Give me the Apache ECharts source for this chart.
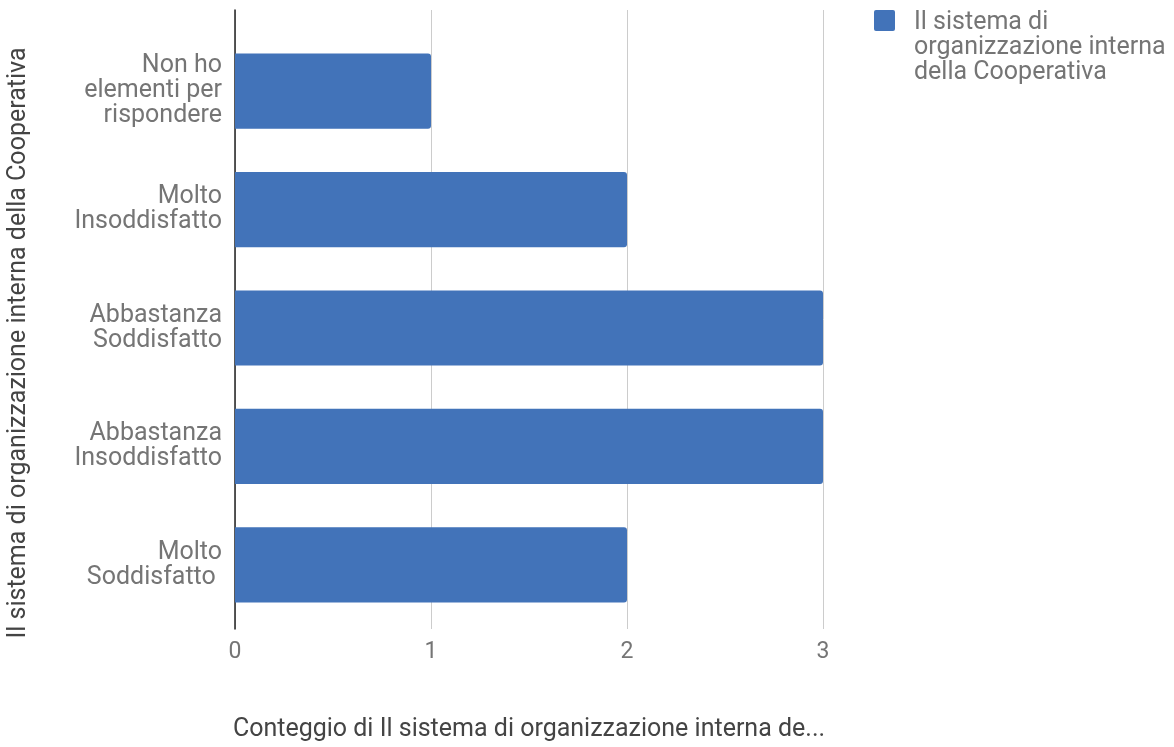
<!DOCTYPE html>
<html>
<head>
<meta charset="utf-8">
<script src="https://cdn.jsdelivr.net/npm/echarts@6/dist/echarts.min.js"></script>
<style>
  html, body { margin: 0; padding: 0; background: #fff; }
  #chart { width: 1174px; height: 747px; }
</style>
</head>
<body>
<div id="chart"></div>
<script>
// Risposte sul sistema di organizzazione interna (conteggio per risposta)
const categories = [
  'Non ho\nelementi per\nrispondere',
  'Molto\nInsoddisfatto',
  'Abbastanza\nSoddisfatto',
  'Abbastanza\nInsoddisfatto',
  'Molto\nSoddisfatto '
];
const counts = [1, 2, 3, 3, 2];
const seriesName = 'Il sistema di\norganizzazione interna\ndella Cooperativa';
const xAxisTitle = 'Conteggio di Il sistema di organizzazione interna de...';
const yAxisTitle = 'Il sistema di organizzazione interna della Cooperativa';

const FONT = 'Roboto';
const TEXT = '#757575';
const TITLE = '#444444';
const BAR = '#4273b9';

// Legend swatch: a small rounded square at the top of a taller invisible box,
// so the three-line label starts level with the swatch.
const LEGEND_ICON = 'path://M2,0H19Q21,0 21,2V19Q21,21 19,21H2Q0,21 0,19V2Q0,0 2,0Z' +
  'M0,75L0,75M35,75L35,75';

const chart = echarts.init(document.getElementById('chart'));
chart.setOption({
  animation: false,
  textStyle: { fontFamily: FONT },
  grid: [
    // frame: gridlines, tick labels and the left axis line
    { left: 235, width: 588, top: 10, height: 633 },
    // bars
    { left: 235, width: 588, top: 32, height: 592 }
  ],
  legend: {
    left: 874, top: 10, padding: 0,
    itemWidth: 35, itemHeight: 75,
    icon: LEGEND_ICON,
    itemGap: 0,
    data: [seriesName],
    textStyle: {
      fontFamily: FONT, fontSize: 25, color: TEXT, lineHeight: 25
    },
    selectedMode: false
  },
  xAxis: [
    {
      gridIndex: 0, type: 'value', min: 0, max: 3, interval: 1,
      name: xAxisTitle, nameLocation: 'middle', nameGap: 88,
      nameTextStyle: { fontFamily: FONT, fontSize: 25, color: TITLE },
      axisLine: { show: false }, axisTick: { show: false },
      axisLabel: { margin: 12, fontSize: 23, color: TEXT, fontFamily: FONT },
      splitLine: { lineStyle: { color: '#cccccc', width: 1 } }
    },
    {
      gridIndex: 1, type: 'value', min: 0, max: 3, interval: 1,
      show: false, splitLine: { show: false }
    }
  ],
  yAxis: [
    {
      gridIndex: 0, type: 'value', min: 0, max: 1,
      axisLine: { show: true, onZero: false, lineStyle: { color: '#222', width: 1.5 } },
      axisTick: { show: false }, axisLabel: { show: false },
      splitLine: { show: false }
    },
    {
      gridIndex: 1, type: 'category', data: categories, inverse: true,
      axisLine: { show: false }, axisTick: { show: false },
      splitLine: { show: false },
      axisLabel: {
        margin: 13, fontSize: 25, lineHeight: 25, color: TEXT,
        fontFamily: FONT, align: 'right'
      }
    }
  ],
  graphic: [
    {
      type: 'text', x: 19, y: 343, rotation: Math.PI / 2,
      style: {
        text: yAxisTitle, fontFamily: FONT, fontSize: 25, fill: TITLE,
        align: 'center', verticalAlign: 'middle'
      }
    }
  ],
  series: [
    {
      name: seriesName, type: 'bar', xAxisIndex: 1, yAxisIndex: 1,
      data: counts, barCategoryGap: '36.5%',
      itemStyle: { color: BAR, borderRadius: [0, 3, 3, 0] },
      z: 1
    }
  ]
});
</script>
</body>
</html>
